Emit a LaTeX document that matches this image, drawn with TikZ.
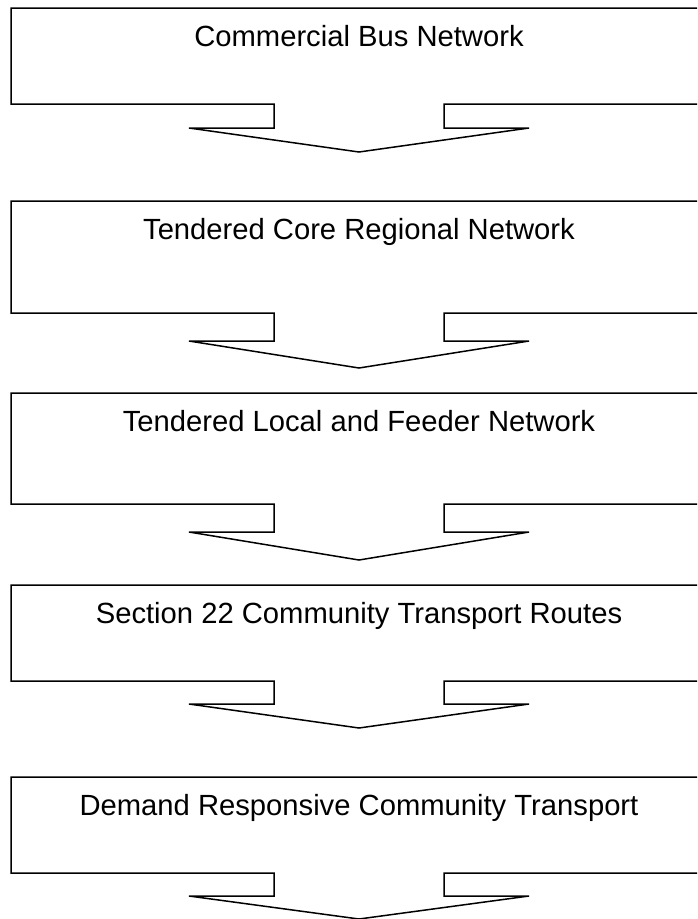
\documentclass[tikz,border=0pt]{standalone}
\usepackage{fontspec}
\setmainfont{Liberation Sans}
\begin{document}
\begin{tikzpicture}[x=1pt,y=-1pt,
  callout/.style={draw=black,line width=1.5pt,line join=miter,fill=white},
  label/.style={anchor=base,inner sep=0pt,font=\fontsize{29.2}{35}\selectfont}]
\useasboundingbox (0,0) rectangle (697,919);
\clip (0,0) rectangle (697,919);
% #1 top, #2 box bottom, #3 shaft bottom, #4 tip, #5 name, #6 text
\newcommand{\downcallout}[6]{%
  \draw[callout] (11,#1) -- (707,#1) -- (707,#2) -- (444,#2) -- (444,#3)
    -- (529,#3) -- (359,#4) -- (189,#3) -- (274,#3) -- (274,#2)
    -- (11,#2) -- cycle;
  \node[label] (#5) at (359,#1+38) {#6};}
\downcallout{8}{104}{128}{152}{commercial}{Commercial Bus Network}
\downcallout{201}{313}{341}{368}{core}{Tendered Core Regional Network}
\downcallout{393}{504}{532}{560}{local}{Tendered Local and Feeder Network}
\downcallout{585}{681}{704}{728}{section}{Section 22 Community Transport Routes}
\downcallout{777}{873}{896}{919}{demand}{Demand Responsive Community Transport}
\end{tikzpicture}
\end{document}
